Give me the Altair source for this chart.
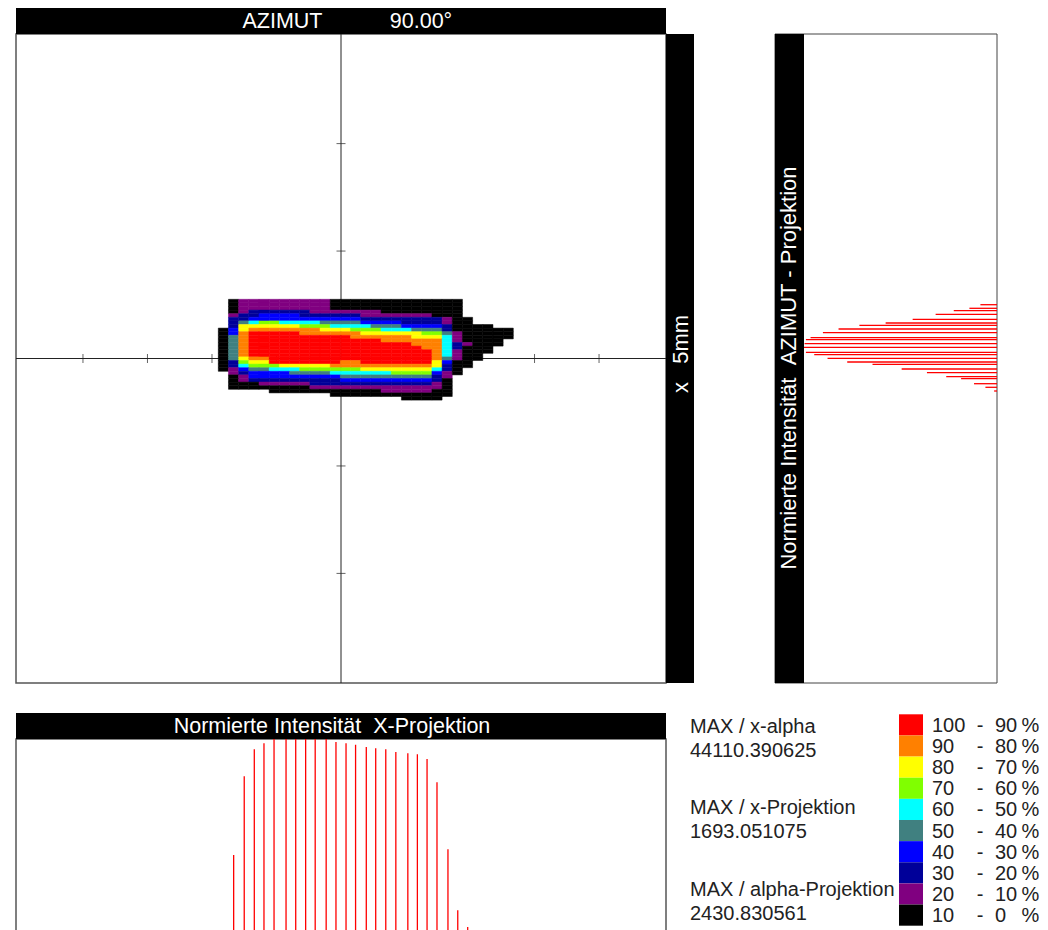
import altair as alt
import pandas as pd

FONT = "Liberation Sans"

# Intensity map: one string per row, one character per column (level 0-9, blank = no signal)
map_rows = [
    " 0" "111111111" "0000000000000" "     ",
    " 0" "111111111" "0000000000000" "     ",
    " 0" "111111111" "0000000000000" "     ",
    " 0" "1" "222222" "1111111" "00000000" "     ",
    " 1" "2" "2" "3333" "222222" "1111111" "000" "     ",
    " 2" "2" "333333" "33333" "2222222" "2" "1" "00" "    ",
    " 2" "4" "5" "66" "5555" "4444" "3333" "2222" "1" "00" "    ",
    " 2" "7" "77777" "66" "6" "5555" "444" "3333" "2" "0000" "  ",
    "0" "3" "7" "88888" "88" "777" "666" "555" "444" "2" "000000",
    "0" "3" "8" "99999" "88888" "8" "777777" "66" "4" "1" "00000",
    "0" "4" "8" "9999999999" "888" "888" "77" "7" "5" "1" "00000",
    "0" "4" "8" "9999999999999" "888" "88" "8" "5" "1" "0000" " ",
    "0" "4" "8" "9999999999999999" "88" "8" "5" "2" "1" "000" " ",
    "0" "4" "8" "99999999999999999" "8" "8" "5" "2" "000" "  ",
    "0" "4" "8" "999999999999999999" "8" "5" "1" "000" "  ",
    "0" "4" "8" "999999999999999999" "8" "5" "1" "00" "   ",
    "0" "4" "7" "88" "9999999999999999" "8" "4" "1" "00" "   ",
    "0" "2" "6" "77" "9999999" "88" "9999999" "7" "3" "00" "    ",
    "0" "2" "5" "66" "6" "77777" "888" "8888888" "7" "2" "00" "    ",
    "0" "1" "3" "44" "555" "666" "666" "7777777" "5" "2" "0" "     ",
    " " "1" "2" "3333" "4444" "555555" "6666" "3" "1" "0" "     ",
    " " "0" "1" "333333333" "444444444" "2" "1" "      ",
    " " "0" "1" "222" "222222" "333333333" "2" "0" "      ",
    " " "0" "0" "0" "11111" "222222222222" "1" "0" "      ",
    " " "00000000" "1111111111111" "0" "      ",
    "     " "00000000000" "11111" "00" "      ",
    "           " "000000000000" "      ",
    "                  " "0000" "       ",
]
assert all(len(r) == 29 for r in map_rows)

level_colors = ["#000000", "#800080", "#000099", "#0000ff", "#408080",
                "#00ffff", "#80ff00", "#ffff00", "#ff8000", "#ff0000"]

# Ticks on the map cross-hair
x_ticks = [-20, -15, -10, -5, 5, 10, 15, 20]
y_ticks = [-2, -1, 1, 2]

# Azimuth projection (normalised, top to bottom)
az_y = [304.7, 308.3, 310.7, 314.3, 319.3, 323.0, 325.3, 329.0, 332.7, 337.7, 339.7,
        343.7, 347.3, 352.3, 354.7, 358.3, 362.0, 364.3, 369.0, 372.7, 376.7, 378.7,
        383.7, 387.3, 391.0]
az_val = [0.086, 0.143, 0.224, 0.318, 0.437, 0.577, 0.713, 0.821, 0.902, 0.966, 0.990,
          0.997, 1.000, 0.990, 0.947, 0.878, 0.776, 0.645, 0.494, 0.363, 0.263, 0.186,
          0.119, 0.060, 0.015]

# X projection
xp_mm = [-8.32, -7.5, -6.72, -5.97, -5.19, -4.26, -3.51, -2.74, -2.0, -1.15, -0.39, 0.39,
         1.13, 1.96, 2.69, 3.47, 4.25, 5.18, 5.92, 6.67, 7.44, 8.29, 9.05, 9.82]
xp_val = [0.536, 0.851, 0.959, 0.983, 1.0, 1.0, 1.0, 1.0, 1.0, 1.0, 0.988, 0.983, 0.977,
          0.968, 0.963, 0.959, 0.948, 0.943, 0.939, 0.920, 0.827, 0.559, 0.315, 0.248]

legend_hi = [100, 90, 80, 70, 60, 50, 40, 30, 20, 10]
legend_lo = [90, 80, 70, 60, 50, 40, 30, 20, 10, 0]

info_lines = ["MAX / x-alpha", "44110.390625", "MAX / x-Projektion", "1693.051075",
              "MAX / alpha-Projektion", "2430.830561"]
info_y = [727, 751, 808, 832, 890, 914]

OX, OY = 8, 8  # page offset of the plot origin


def px(v):
    return alt.value(v - OX)


def py(v):
    return alt.value(v - OY)


def panel(x0, x1, y0, y1, fill="white", stroke=None, sw=1.5):
    kw = dict(fill=fill)
    if stroke:
        kw.update(stroke=stroke, strokeWidth=sw)
    return alt.Chart(pd.DataFrame({"a": [0]})).mark_rect(**kw).encode(
        x=px(x0), x2=px(x1), y=py(y0), y2=py(y1))


def label(text, x, y, color="white", size=21.5, angle=0, align="center"):
    return alt.Chart(pd.DataFrame({"t": [text]})).mark_text(
        font=FONT, fontSize=size, color=color, angle=angle, align=align, baseline="middle"
    ).encode(text="t:N", x=px(x), y=py(y))


xmm = alt.Scale(domain=[-25.19, 25.19], range=[16 - OX, 666 - OX], nice=False, zero=False)
ymm = alt.Scale(domain=[3.02, -3.02], range=[34 - OY, 683 - OY], nice=False, zero=False)

layers = []

# Main panel frame and side bars
layers.append(panel(16, 666, 34, 683, stroke="#555555"))
layers.append(panel(16, 666, 8, 34, fill="black"))
layers.append(panel(666, 694, 34, 683, fill="black"))
layers.append(label("AZIMUT", 282.5, 21.5))
layers.append(label("90.00°", 421, 21.5))
layers.append(label("x\u00a0\u00a0\u00a05mm", 680.5, 354, angle=270, size=22))

# Cross-hair with ticks
cross = pd.DataFrame({"x": [-25.19, 0], "x2": [25.19, 0], "y": [0, -3.02], "y2": [0, 3.02]})
layers.append(alt.Chart(cross).mark_rule(color="#222222", strokeWidth=1).encode(
    x=alt.X("x:Q", scale=xmm, axis=None), x2="x2:Q",
    y=alt.Y("y:Q", scale=ymm, axis=None), y2="y2:Q"))
layers.append(alt.Chart(pd.DataFrame({"x": x_ticks, "y": [0] * len(x_ticks)})).mark_tick(
    color="#222222", orient="vertical", size=9, thickness=1).encode(
    x=alt.X("x:Q", scale=xmm, axis=None), y=alt.Y("y:Q", scale=ymm, axis=None)))
layers.append(alt.Chart(pd.DataFrame({"y": y_ticks, "x": [0] * len(y_ticks)})).mark_tick(
    color="#222222", orient="horizontal", size=9, thickness=1).encode(
    x=alt.X("x:Q", scale=xmm, axis=None), y=alt.Y("y:Q", scale=ymm, axis=None)))

# Heat map
cells = [
    {"c": c, "c2": c + 1, "r": r, "r2": r + 1, "level": int(ch)}
    for r, row in enumerate(map_rows)
    for c, ch in enumerate(row)
    if ch != " "
]
level_scale = alt.Scale(domain=list(range(10)), range=level_colors)
layers.append(alt.Chart(pd.DataFrame(cells)).mark_rect(strokeWidth=0.5).encode(
    x=alt.X("c:Q", scale=alt.Scale(domain=[0, 29], range=[218.3 - OX, 513.3 - OX], nice=False, zero=False), axis=None),
    x2="c2:Q",
    y=alt.Y("r:Q", scale=alt.Scale(domain=[0, 28], range=[299.3 - OY, 400.1 - OY], nice=False, zero=False), axis=None),
    y2="r2:Q",
    color=alt.Color("level:O", scale=level_scale, legend=None),
    stroke=alt.Stroke("level:O", scale=level_scale, legend=None)))

# Azimuth projection panel
layers.append(panel(775, 997, 34, 683, stroke="#444444", sw=1))
layers.append(panel(775, 804, 34, 683, fill="black"))
layers.append(label("Normierte Intensität\u00a0\u00a0AZIMUT - Projektion", 789, 368, angle=270, size=22))
az = pd.DataFrame({"v": az_val, "y": az_y, "zero": [0] * len(az_val)})
layers.append(alt.Chart(az).mark_rule(color="#ff0000", strokeWidth=1.3).encode(
    x=alt.X("zero:Q", scale=alt.Scale(domain=[0, 1], range=[997 - OX, 804 - OX], nice=False, zero=False), axis=None),
    x2="v:Q",
    y=alt.Y("y:Q", scale=alt.Scale(domain=[8, 930], range=[0, 922], nice=False, zero=False), axis=None)))

# X projection panel
layers.append(panel(16, 666, 739, 990, stroke="#555555"))
layers.append(panel(16, 666, 713, 739, fill="black"))
layers.append(label("Normierte Intensität\u00a0\u00a0X-Projektion", 332, 727))
xp = pd.DataFrame({"x": xp_mm, "v": xp_val, "zero": [0] * len(xp_val)})
layers.append(alt.Chart(xp).mark_rule(color="#ff0000", strokeWidth=1.3, clip=True).encode(
    x=alt.X("x:Q", scale=xmm, axis=None),
    y=alt.Y("zero:Q", scale=alt.Scale(domain=[0, 1], range=[989 - OY, 739 - OY], nice=False, zero=False), axis=None),
    y2="v:Q"))

# Info text
for t, y in zip(info_lines, info_y):
    layers.append(label(t, 690, y, color="#222222", size=20, align="left"))

# Colour legend
lg = pd.DataFrame({"hi": legend_hi, "lo": legend_lo, "level": list(range(9, -1, -1))})
lg["mid"] = (lg.hi + lg.lo) / 2
lg["lo_t"] = lg.lo.astype(str)
lg["hi_t"] = lg.hi.astype(str)
lg["dash"] = "-"
lg["pct"] = "%"
lgy = alt.Scale(domain=[100, 0], range=[714.3 - OY, 925.7 - OY], nice=False, zero=False)
layers.append(alt.Chart(lg).mark_rect(strokeWidth=0).encode(
    x=px(899), x2=px(923),
    y=alt.Y("hi:Q", scale=lgy, axis=None), y2="lo:Q",
    color=alt.Color("level:O", scale=level_scale, legend=None)))
for field, xpos, align in [("hi_t", 932, "left"), ("dash", 980, "center"), ("lo_t", 995, "left"), ("pct", 1021.5, "left")]:
    layers.append(alt.Chart(lg).mark_text(font=FONT, fontSize=20, color="#222222", align=align, baseline="middle", dy=1).encode(
        text=f"{field}:N", x=px(xpos), y=alt.Y("mid:Q", scale=lgy, axis=None)))

chart = alt.layer(*layers).resolve_scale(x="independent", y="independent").properties(
    width=1032, height=922, padding=0, autosize=alt.AutoSizeParams(type="none")
).configure_view(stroke=None)

chart.save("out.html", embed_options={"renderer": "svg", "actions": False})
